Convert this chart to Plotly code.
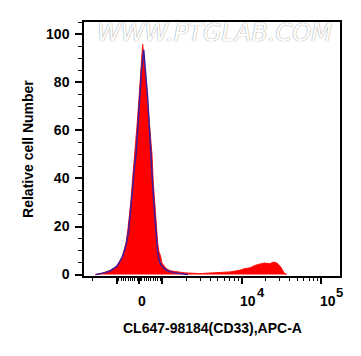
import numpy as np
import plotly.graph_objects as go

# ---- data (display channel units of the biexponential axis) ----
red_x = [-0.560, -0.497, -0.459, -0.396, -0.346, -0.287, -0.245, -0.216, -0.195, -0.170,
         -0.145, -0.128, -0.107, -0.091, -0.072, -0.057, -0.031, -0.006, 0.013, 0.029,
         0.040, 0.052, 0.075, 0.103, 0.132, 0.157, 0.174, 0.191, 0.208, 0.220,
         0.229, 0.245, 0.267, 0.279, 0.308, 0.333, 0.384, 0.447, 0.509, 0.572,
         0.761, 0.887, 1.013, 1.138, 1.264, 1.327, 1.390, 1.453, 1.516, 1.579,
         1.642, 1.679, 1.730, 1.780, 1.818, 1.855]
red_y = [0, 0.2, 0.7, 1.3, 2.0, 3.4, 5.5, 7.5, 10, 13,
         19, 24, 31, 38, 45, 51, 62, 73.5, 83, 92,
         95.8, 92, 82, 73.5, 61, 50, 38, 30, 24, 17,
         13, 9.5, 7.5, 5, 3.4, 2.6, 1.6, 1.3, 1.1, 0.7,
         0.4, 0.6, 0.8, 1.1, 1.8, 2.5, 2.8, 3.8, 4.4, 4.8,
         4.5, 5.2, 4.8, 3.0, 0.7, 0]

blue_x = [-0.548, -0.497, -0.434, -0.371, -0.287, -0.245, -0.214, -0.189, -0.164, -0.138,
          -0.119, -0.088, -0.063, -0.044, -0.019, 0.003, 0.025, 0.053, 0.069, 0.088,
          0.103, 0.126, 0.141, 0.164, 0.189, 0.208, 0.226, 0.245, 0.270, 0.308,
          0.358, 0.447, 0.535, 0.610]
blue_y = [0, 0.3, 0.8, 1.5, 3.4, 5.5, 7.5, 10, 13, 18,
          24, 35, 45, 50, 62, 73.5, 85, 93.5, 88, 80,
          73.5, 60, 50, 38, 26, 17, 10, 6, 4, 2.6,
          1.5, 0.7, 0.3, 0]

y_ticks = [0, 20, 40, 60, 80, 100]
x_major_vals = [-1000, 0, 1000, 10000, 100000]
x_label_vals = [0, 10000, 100000]
x_label_base = ["0", "10", "10"]
x_label_exp = ["", "4", "5"]

K = 0.287  # display position of 10^3


def T(v):
    v = float(v)
    if abs(v) <= 1000:
        return v / 1000.0 * K
    return float(np.sign(v) * (K + np.log10(abs(v) / 1000.0)))


minor_vals = ([-2000] + [-100 * i for i in range(1, 10)] + [100 * i for i in range(1, 10)]
              + [-10 * i for i in range(1, 10)] + [10 * i for i in range(1, 10)]
              + [1000 * i for i in range(2, 10)] + [10000 * i for i in range(2, 10)])

FONT = "Liberation Sans, Arial, sans-serif"

fig = go.Figure()
fig.add_trace(go.Scatter(x=red_x, y=red_y, mode="lines", fill="tozeroy",
                         line=dict(color="#ff1010", width=1), fillcolor="#ff0000",
                         hoverinfo="skip", showlegend=False))
fig.add_trace(go.Scatter(x=blue_x, y=blue_y, mode="lines",
                         line=dict(color="#3c1e9e", width=1.5),
                         hoverinfo="skip", showlegend=False))

fig.update_layout(
    width=353, height=348,
    margin=dict(l=76, r=21, t=12, b=80),
    paper_bgcolor="white", plot_bgcolor="white",
    font=dict(family=FONT, size=14, color="black"),
)
fig.update_xaxes(range=[-0.698, 2.522], showgrid=False, zeroline=False,
                 showline=True, linecolor="black", linewidth=1.5, mirror=True,
                 ticks="outside", ticklen=6, tickwidth=1.5, tickcolor="black",
                 tickvals=[T(v) for v in x_major_vals], showticklabels=False,
                 minor=dict(tickvals=[T(v) for v in minor_vals], ticks="outside",
                            ticklen=3, tickwidth=1, tickcolor="black"))
fig.update_yaxes(range=[-0.6, 105.1], showgrid=False, zeroline=False,
                 showline=True, linecolor="black", linewidth=1.5, mirror=True,
                 ticks="outside", ticklen=7, tickwidth=1.5, tickcolor="black",
                 tickvals=y_ticks, ticklabelstandoff=3,
                 tickfont=dict(family=FONT, size=14, color="black", weight="bold"),
                 minor=dict(dtick=5, ticks="outside", ticklen=4, tickwidth=1, tickcolor="black"))

lab_font = dict(family=FONT, size=14, color="black", weight="bold")
for v, b, e in zip(x_label_vals, x_label_base, x_label_exp):
    if e:
        fig.add_annotation(x=T(v), y=-0.064, xref="x", yref="paper", text=b, showarrow=False,
                           xanchor="left", yanchor="top", xshift=-2.5, borderpad=0,
                           font=lab_font)
        fig.add_annotation(x=T(v), y=-0.030, xref="x", yref="paper", text=e, showarrow=False,
                           xanchor="left", yanchor="top", xshift=14, borderpad=0,
                           font=dict(family=FONT, size=13, color="black", weight="bold"))
    else:
        fig.add_annotation(x=T(v), y=-0.064, xref="x", yref="paper", text=b, showarrow=False,
                           xanchor="center", yanchor="top", xshift=2.5, borderpad=0,
                           font=lab_font)

fig.add_annotation(x=0.5, y=-0.203, xref="paper", yref="paper",
                   text="CL647-98184(CD33),APC-A", showarrow=False,
                   xanchor="center", yanchor="middle",
                   font=dict(family=FONT, size=14, color="black", weight="bold"))
fig.add_annotation(x=-0.219, y=0.5, xref="paper", yref="paper",
                   text="Relative cell Number", showarrow=False, textangle=-90,
                   xanchor="center", yanchor="middle",
                   font=dict(family=FONT, size=14, color="black", weight="bold"))
fig.add_annotation(x=0.508, y=0.955, xref="paper", yref="paper",
                   text="WWW.PTGLAB.COM", showarrow=False,
                   xanchor="center", yanchor="middle",
                   font=dict(family="DejaVu Sans", size=24, color="white", style="italic",
                             shadow="0 0 1px #a0a0a0, 0 0 1px #a0a0a0"))

fig.write_html("out.html")
